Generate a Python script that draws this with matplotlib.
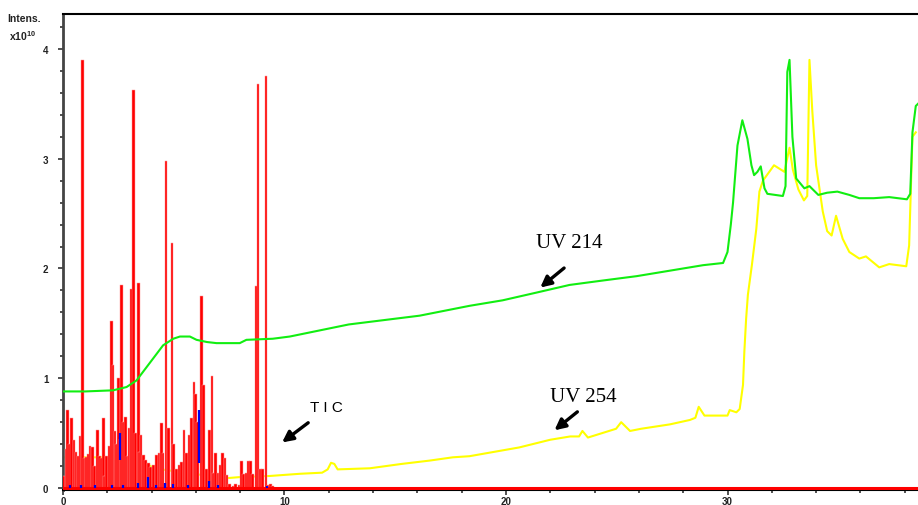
import matplotlib
matplotlib.use("Agg")
import matplotlib.pyplot as plt
from matplotlib.ticker import MultipleLocator

# ---- UV 214 trace (green) ----
uv214_t = [0, 1.0, 2.26, 2.87, 3.32, 3.92, 4.52, 4.98, 5.28, 5.73, 6.03, 6.5, 6.93, 7.98,
           8.28, 9.47, 10.24, 12.9, 16.1, 18.36, 19.85, 21.37, 22.87, 24.36, 25.9, 27.4,
           28.9, 29.8, 30.0, 30.15, 30.25, 30.45, 30.67, 30.9, 31.08, 31.2, 31.35, 31.5,
           31.67, 31.8, 32.5, 32.62, 32.7, 32.8, 32.93, 33.1, 33.47, 33.7, 34.1, 34.5,
           34.96, 35.5, 35.95, 36.6, 37.3, 38.1, 38.25, 38.35, 38.5, 38.6]
uv214_v = [0.88, 0.88, 0.89, 0.92, 0.98, 1.14, 1.30, 1.36, 1.38, 1.38, 1.35, 1.33, 1.32, 1.32,
           1.35, 1.36, 1.38, 1.49, 1.57, 1.66, 1.71, 1.78, 1.85, 1.89, 1.93, 1.98,
           2.03, 2.05, 2.15, 2.40, 2.60, 3.12, 3.35, 3.18, 2.94, 2.85, 2.88, 2.93,
           2.73, 2.68, 2.66, 2.75, 3.79, 3.90, 3.20, 2.82, 2.73, 2.75, 2.67, 2.69,
           2.70, 2.67, 2.64, 2.64, 2.65, 2.63, 2.68, 3.24, 3.48, 3.50]

# ---- UV 254 trace (yellow) ----
uv254_t = [0, 3.3, 3.8, 4.1, 5.5, 7.0, 7.38, 8.0, 9.34, 10.7, 11.7, 11.95, 12.1, 12.25,
           12.4, 13.85, 15.3, 16.55, 17.6, 18.35, 20.6, 22.0, 22.9, 23.3, 23.45, 23.7,
           24.97, 25.2, 25.6, 26.1, 27.4, 28.3, 28.55, 28.7, 28.96, 30.0, 30.1, 30.4,
           30.55, 30.7, 30.76, 30.84, 30.92, 31.1, 31.3, 31.44, 31.6, 32.1, 32.57, 32.66,
           32.8, 32.95, 33.2, 33.45, 33.6, 33.7, 33.83, 34.0, 34.3, 34.5, 34.7, 34.9,
           35.2, 35.5, 35.95, 36.25, 36.85, 37.3, 38.07, 38.2, 38.35, 38.5]
uv254_v = [0.28, 0.28, 0.22, 0.18, 0.14, 0.10, 0.09, 0.10, 0.11, 0.13, 0.14, 0.17, 0.23, 0.22,
           0.17, 0.18, 0.22, 0.25, 0.28, 0.29, 0.37, 0.44, 0.47, 0.47, 0.52, 0.46,
           0.54, 0.60, 0.52, 0.54, 0.58, 0.62, 0.64, 0.74, 0.66, 0.66, 0.71, 0.69,
           0.72, 0.94, 1.24, 1.54, 1.76, 2.03, 2.36, 2.70, 2.80, 2.94, 2.88, 2.97,
           3.10, 2.90, 2.72, 2.62, 2.66, 3.90, 3.43, 2.94, 2.52, 2.34, 2.30, 2.48,
           2.27, 2.15, 2.09, 2.11, 2.01, 2.04, 2.02, 2.21, 3.20, 3.24]

# ---- Total ion current (red) ----
tic_t = [0.03, 0.14, 0.19, 0.28, 0.39, 0.50, 0.59, 0.69, 0.77, 0.89, 0.95, 1.07, 1.14, 1.22,
         1.34, 1.44, 1.55, 1.64, 1.75, 1.82, 1.89, 1.97, 2.09, 2.20, 2.26, 2.35, 2.42,
         2.50, 2.57, 2.65, 2.72, 2.81, 2.89, 2.98, 3.10, 3.20, 3.29, 3.40, 3.47, 3.52,
         3.62, 3.73, 3.85, 3.96, 4.10, 4.23, 4.34, 4.45, 4.52, 4.65, 4.75, 4.92, 4.98,
         5.13, 5.25, 5.35, 5.46, 5.58, 5.70, 5.80, 5.91, 6.00, 6.08, 6.27, 6.36, 6.48,
         6.60, 6.73, 6.81, 6.90, 7.00, 7.11, 7.19, 7.31, 7.41, 7.53, 7.68, 7.80, 7.95,
         8.07, 8.16, 8.28, 8.39, 8.48, 8.56, 8.72, 8.80, 8.90, 9.00, 9.17, 9.26, 9.37,
         9.46]
tic_i = [0.11, 0.36, 0.71, 0.40, 0.64, 0.44, 0.33, 0.29, 0.47, 3.90, 0.27, 0.28, 0.31, 0.38,
         0.37, 0.20, 0.53, 0.29, 0.27, 0.64, 0.11, 0.29, 0.38, 1.52, 1.12, 0.52, 0.40,
         1.00, 0.45, 1.85, 0.60, 0.65, 0.29, 0.55, 1.81, 3.63, 0.50, 1.87, 0.33, 0.48,
         0.30, 0.26, 0.23, 0.19, 0.21, 0.30, 0.32, 0.59, 0.32, 2.98, 0.55, 2.23, 0.40,
         0.17, 0.21, 0.24, 0.53, 0.32, 0.48, 0.64, 0.97, 0.86, 0.60, 1.75, 0.94, 0.17,
         0.53, 1.02, 0.14, 0.32, 0.14, 0.21, 0.32, 0.27, 0.12, 0.04, 0.02, 0.04, 0.03,
         0.25, 0.13, 0.14, 0.25, 0.25, 0.13, 1.84, 3.68, 0.17, 0.17, 3.75, 0.03, 0.04,
         0.02]

# ---- Second ion trace (blue), visible segments ----
blue_t = [0.3, 0.8, 1.45, 2.2, 2.57, 2.7, 3.4, 3.85, 4.2, 4.6, 4.95, 5.65, 6.12, 6.6, 7.0, 9.2]
blue_lo = [0, 0, 0, 0, 0.26, 0, 0, 0, 0, 0, 0, 0, 0.23, 0, 0, 0]
blue_hi = [0.03, 0.03, 0.03, 0.03, 0.50, 0.03, 0.05, 0.10, 0.03, 0.05, 0.04, 0.03, 0.71, 0.06, 0.03, 0.02]

x_ticks = [0, 10, 20, 30]
y_ticks = [0, 1, 2, 3, 4]

fig = plt.figure(figsize=(9.18, 5.06), dpi=100)
ax = fig.add_axes([0.0686, 0.0296, 0.9314, 0.9408])

ax.plot(uv254_t, uv254_v, color="#ffff00", lw=1.5, zorder=2)
ax.bar(tic_t, tic_i, width=0.125, color="#ff0000", edgecolor="#ff9a9a",
       linewidth=0.35, zorder=3)
ax.vlines(blue_t, blue_lo, blue_hi, color="#0000ee", lw=1.6, zorder=4)
ax.axhline(0, color="#ff0000", lw=2.2, zorder=3)
ax.plot(uv214_t, uv214_v, color="#11ee11", lw=1.5, zorder=5)

# annotations
arrow_kw = dict(arrowstyle="-|>", color="black", lw=2.4, mutation_scale=16)
ax.text(22.87, 2.24, "UV 214", family="Liberation Serif", fontsize=15,
        ha="center", va="center")
ax.annotate("", xy=(21.45, 1.81), xytext=(22.72, 2.02), arrowprops=arrow_kw)
ax.text(23.47, 0.83, "UV 254", family="Liberation Serif", fontsize=15,
        ha="center", va="center")
ax.annotate("", xy=(22.09, 0.51), xytext=(23.32, 0.71), arrowprops=arrow_kw)
ax.text(11.9, 0.74, "T I C", family="Liberation Sans", fontsize=11,
        ha="center", va="center")
ax.annotate("", xy=(9.79, 0.40), xytext=(11.17, 0.61), arrowprops=arrow_kw)

ax.set_xlim(0, 38.6)
ax.set_ylim(-0.018, 4.318)
ax.xaxis.set_minor_locator(MultipleLocator(2))
ax.yaxis.set_minor_locator(MultipleLocator(0.2))
ax.set_xticks(x_ticks)
ax.set_yticks(y_ticks)

for lab in ax.get_xticklabels() + ax.get_yticklabels():
    lab.set_family("Liberation Sans")
    lab.set_fontweight("bold")
    lab.set_fontsize(7)
    lab.set_color("#222222")

ax.tick_params(axis="both", which="major", length=3.5, width=1.2, color="#333333", pad=1)
ax.tick_params(axis="both", which="minor", length=2.5, width=1.2, color="#333333")
ax.tick_params(axis="y", pad=7)

ax.spines["right"].set_visible(False)
ax.spines["left"].set_color("#444444")
ax.spines["left"].set_linewidth(2)
ax.spines["top"].set_linewidth(1.5)
ax.spines["bottom"].set_linewidth(1.5)

fig.text(0.008, 0.963, "Intens.", family="Liberation Sans", fontweight="bold",
         fontsize=7.5, ha="left", va="center", color="#222222")
fig.text(0.01, 0.928, r"x10$^{\mathregular{10}}$", family="Liberation Sans",
         fontweight="bold", fontsize=7.5, ha="left", va="center", color="#222222")

fig.savefig("out.png", dpi=100)
